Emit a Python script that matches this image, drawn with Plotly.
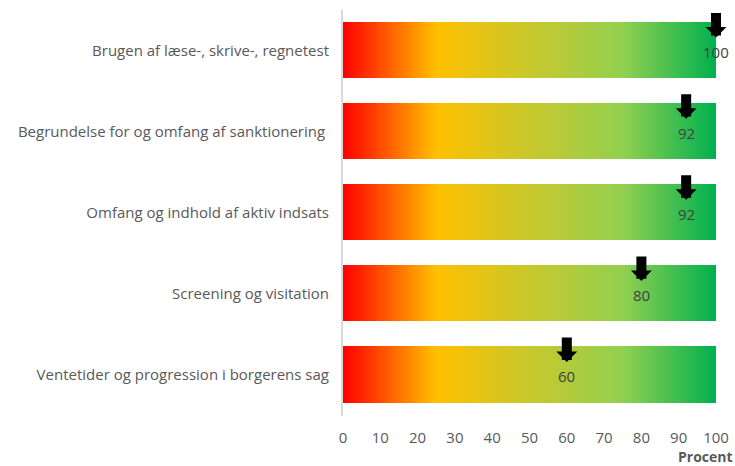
import numpy as np
import plotly.graph_objects as go

categories = [
    "Brugen af læse-, skrive-, regnetest",
    "Begrundelse for og omfang af sanktionering ",
    "Omfang og indhold af aktiv indsats",
    "Screening og visitation",
    "Ventetider og progression i borgerens sag",
]
values = [100, 92, 92, 80, 60]
x_ticks = [0, 10, 20, 30, 40, 50, 60, 70, 80, 90, 100]

FONT = "Open Sans"
TXT = "#595959"

# gradient background scale (0-100) for every category
edges = np.linspace(0, 100, 401)
centers = (edges[:-1] + edges[1:]) / 2
z = [list(centers) for _ in categories]

fig = go.Figure()
fig.add_trace(go.Heatmap(
    x=edges, y=categories, z=z,
    zmin=0, zmax=100,
    colorscale=[[0, "#ff0000"], [0.25, "#ffc000"], [0.5, "#c8c82c"],
                [0.75, "#92d050"], [1, "#00b050"]],
    showscale=False, ygap=25, hoverinfo="skip",
))

for cat, v in zip(categories, values):
    fig.add_annotation(x=v, y=cat, text="", showarrow=True, ax=0, ay=-26,
                       yshift=13, arrowhead=1, arrowsize=0.35, arrowwidth=10,
                       arrowcolor="black", standoff=0)
    fig.add_annotation(x=v, y=cat, text=str(v), showarrow=False, yshift=-1,
                       font=dict(family=FONT, size=15, color="#404040"))

fig.add_annotation(xref="paper", yref="paper", x=1, y=0, xanchor="right",
                   yanchor="middle", xshift=18, yshift=-40, text="<b>Procent</b>",
                   showarrow=False, borderpad=0,
                   font=dict(family=FONT, size=14, color=TXT))

fig.update_layout(
    width=735, height=466,
    margin=dict(l=343, r=19, t=10, b=50),
    paper_bgcolor="white", plot_bgcolor="white",
    font=dict(family=FONT, size=15, color=TXT),
    xaxis=dict(range=[0, 100], tickvals=x_ticks, showgrid=False, zeroline=False,
               showline=False, ticks="outside", ticklen=8, tickcolor="rgba(0,0,0,0)",
               tickfont=dict(family=FONT, size=15, color=TXT), automargin=False),
    yaxis=dict(autorange="reversed", showgrid=False, zeroline=False,
               showline=True, linecolor="#d9d9d9", linewidth=2,
               ticks="outside", ticklen=9, tickcolor="rgba(0,0,0,0)",
               tickfont=dict(family=FONT, size=15, color=TXT), automargin=False),
    showlegend=False,
)

fig.write_html("out.html",
               config={"displayModeBar": False, "responsive": False},
               post_script="document.body.style.margin='0px';"
                           "document.body.style.overflow='hidden';")
